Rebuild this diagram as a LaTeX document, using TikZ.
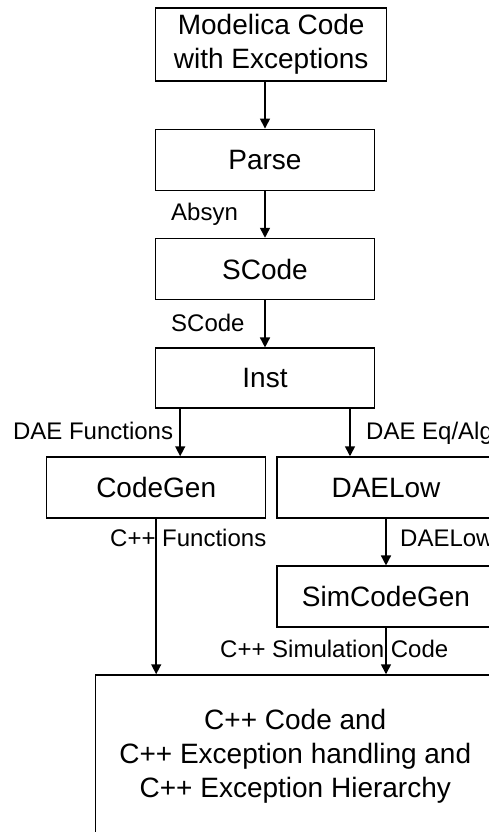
\documentclass[tikz,border=0pt]{standalone}
\usepackage{fontspec}
\setmainfont{Liberation Sans}
\usetikzlibrary{arrows.meta}
\begin{document}
\begin{tikzpicture}[x=1pt,y=-1pt,
  box/.style={draw, line width=1.5pt, inner sep=0pt, align=center,
    font=\fontsize{28}{34}\selectfont},
  lab/.style={inner sep=0pt, anchor=base west, font=\fontsize{24}{28}\selectfont},
  arr/.style={line width=1.5pt, -{Triangle[length=10pt,width=10pt]}}]
\useasboundingbox (0,0) rectangle (489,832);
\clip (0,0) rectangle (489,832);
\node[box, minimum width=231pt, minimum height=73pt] (mod) at (271.2,44.3) {Modelica Code\\with Exceptions};
\node[box, minimum width=218.6pt, minimum height=61pt] (parse) at (265,159.8) {Parse};
\node[box, minimum width=218.6pt, minimum height=61pt] (scode) at (265,269) {SCode};
\node[box, minimum width=218.6pt, minimum height=60pt] (inst) at (265,378.2) {Inst};
\node[box, minimum width=219pt, minimum height=61pt] (codegen) at (156.2,487.5) {CodeGen};
\node[box, minimum width=218pt, minimum height=61pt] (daelow) at (386,487.5) {DAELow};
\node[box, minimum width=218pt, minimum height=61pt] (simcg) at (386,596.7) {SimCodeGen};
\node[box, minimum width=399.3pt, minimum height=162pt] (out) at (295.3,756) {C++ Code and\\C++ Exception handling and\\C++ Exception Hierarchy};

\node[lab] (l1) at (171,220.7) {Absyn};
\node[lab] (l2) at (171,331) {SCode};
\node[lab, anchor=base east] (l3) at (173.3,439.3) {DAE Functions};
\node[lab] (l4) at (366,439.3) {DAE Eq/Alg};
\node[lab] (l5) at (110,546.7) {C++ Functions};
\node[lab] (l6) at (400,546.7) {DAELow};
\node[lab] (l7) at (220,657.3) {C++ Simulation Code};

\draw[arr] (parse.north |- mod.south) -- (parse.north);
\draw[arr] (parse.south) -- (scode.north);
\draw[arr] (scode.south) -- (inst.north);
\draw[arr] ([xshift=24pt]codegen.north |- inst.south) -- ([xshift=24pt]codegen.north);
\draw[arr] ([xshift=-36pt]daelow.north |- inst.south) -- ([xshift=-36pt]daelow.north);
\draw[arr] (codegen.south) -- (codegen.south |- out.north);
\draw[arr] (daelow.south) -- (simcg.north);
\draw[arr] (simcg.south) -- (simcg.south |- out.north);
\end{tikzpicture}
\end{document}
